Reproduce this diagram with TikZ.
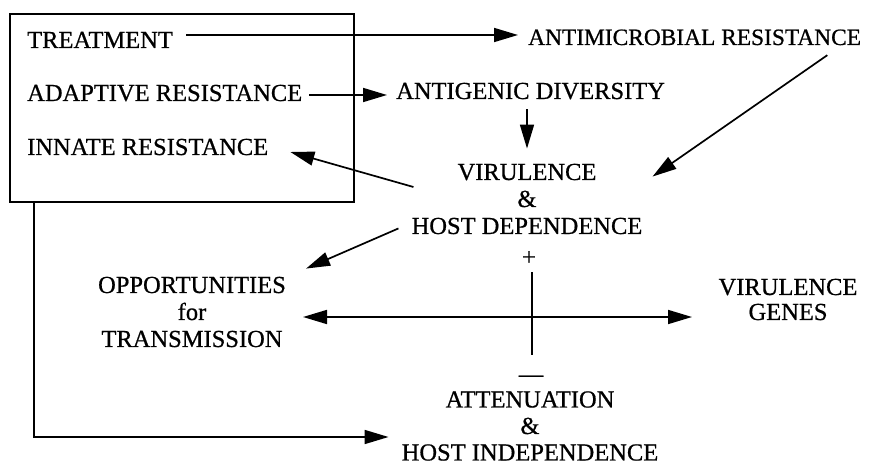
\documentclass[tikz,border=0pt]{standalone}
\usepackage{fontspec}
\setmainfont{Liberation Serif}[UprightFeatures={FakeBold=0.7}]
\usetikzlibrary{arrows.meta, calc}

\begin{document}
\begin{tikzpicture}[x=1pt, y=-1pt,
        lbl/.style={inner sep=0pt, font=\fontsize{24.5}{27}\selectfont, text height=16pt, text depth=0pt},
        lblc/.style={inner sep=0pt, font=\fontsize{24.5}{27}\selectfont, align=center},
        arr/.style={line width=1.7pt, -{Triangle[length=24pt, width=14pt]}},
        darr/.style={line width=1.7pt, {Triangle[length=24pt, width=14pt]}-{Triangle[length=24pt, width=14pt]}}]
    \useasboundingbox (0,0) rectangle (888,465);

    % host side, in the box
    \node[draw, line width=1.7pt, minimum width=344pt, minimum height=188pt, inner sep=0pt] (box) at (182,108) {};
    \node[lbl, anchor=west] (treat)  at (27,40)  {TREATMENT};
    \node[lbl, anchor=west] (adapt)  at (27,93)  {ADAPTIVE RESISTANCE};
    \node[lbl, anchor=west] (innate) at (27,147) {INNATE RESISTANCE};

    % pathogen side
    \node[lbl, anchor=west, font=\fontsize{23.4}{27}\selectfont] (amr) at (528,37) {ANTIMICROBIAL RESISTANCE};
    \node[lbl, anchor=west] (antigen) at (396,91) {ANTIGENIC DIVERSITY};
    \node[lblc] (vir)   at (527,199) {VIRULENCE\\\&\\HOST DEPENDENCE};
    \node[lbl]  (plus)  at (529,257) {+};
    \node[lbl, text height=8pt] (minus) at (531,378) {---};
    \node[lblc] (opp)   at (192,312) {OPPORTUNITIES\\for\\TRANSMISSION};
    \node[lblc, font=\fontsize{24.5}{25}\selectfont] (genes) at (788,299.5) {VIRULENCE\\GENES};
    \node[lblc, font=\fontsize{24.5}{26.5}\selectfont] (att) at (530,426) {ATTENUATION\\\&\\HOST INDEPENDENCE};

    % the two axes
    \coordinate (hl) at (303,317);
    \coordinate (hr) at (692,317);
    \coordinate (vt) at (532,272);
    \coordinate (vb) at (532,355);
    \draw[darr] (hl) -- (hr);
    \draw[line width=1.7pt] (vt) -- (vb);

    \draw[arr] ($(treat.east)+(13,-5)$) -- ($(treat.east -| amr.west)+(-10,-5)$);
    \draw[arr] ($(adapt.east)+(7,2)$) -- ($(adapt.east -| antigen.west)+(-9,2)$);
    \draw[arr] ($(antigen.south -| vir.north)+(0,10)$) -- ($(vir.north)+(0,-15)$);
    \draw[arr] ($(amr.south east)+(-34,10)$) -- ($(vir.north east)+(10,13)$);
    \draw[arr] ($(vir.west)+(2,-12)$) -- ($(innate.east)+(22,5)$);
    \draw[arr] ($(vir.south west)+(-13,-6)$) -- ($(opp.north east)+(20,-8)$);

    % feedback from the box
    \coordinate (fb) at ($(box.south west)+(25,0)$);
    \coordinate (fbend) at ($(att.west)+(-13,11)$);
    \draw[arr] (fb) |- (fbend);
\end{tikzpicture}
\end{document}
